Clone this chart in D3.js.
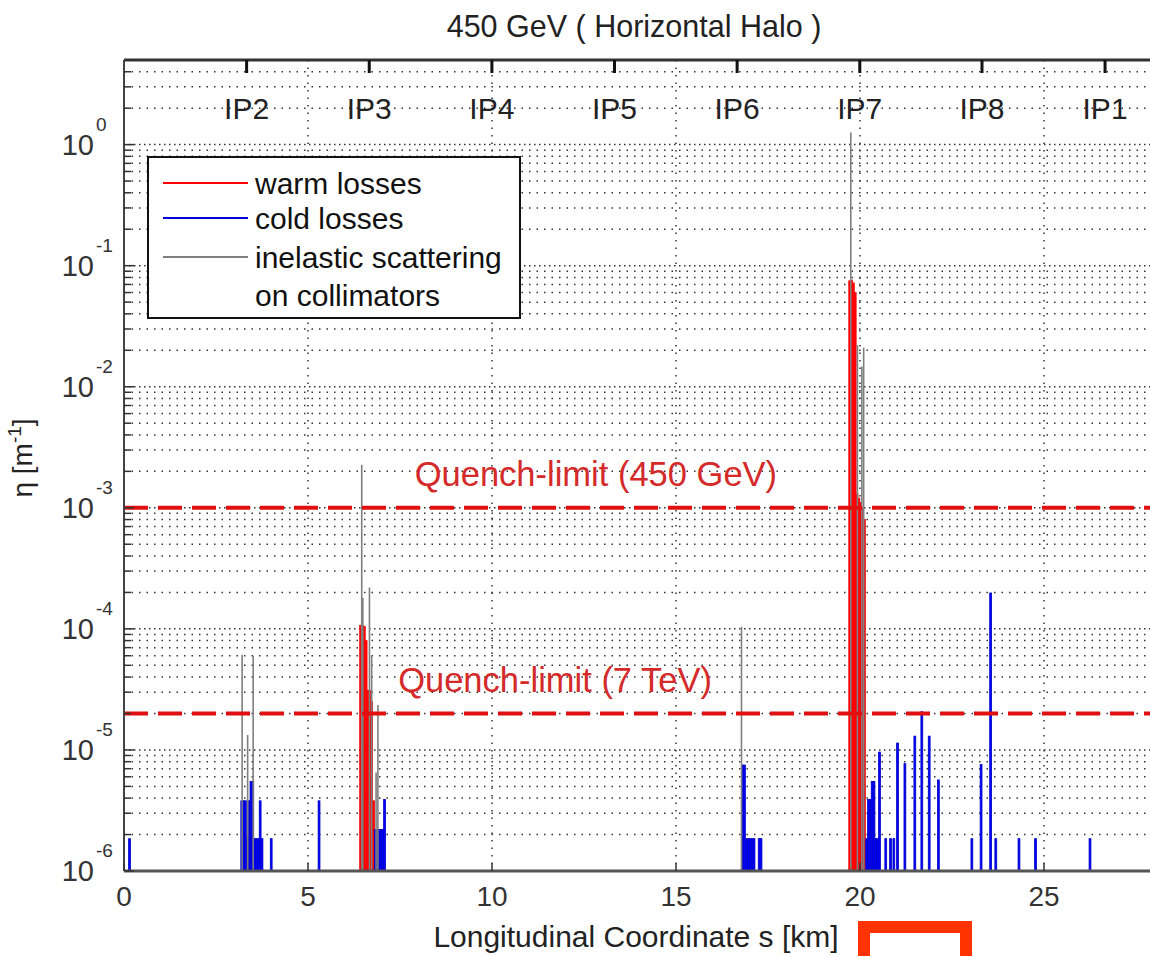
<!DOCTYPE html>
<html>
<head>
<meta charset="utf-8">
<script src="https://cdnjs.cloudflare.com/ajax/libs/d3/7.8.5/d3.min.js"></script>
<style>
  body { margin: 0; background: #fff; }
  svg { display: block; font-family: Arial, "Liberation Sans", sans-serif; }
</style>
</head>
<body>
<div id="vis"></div>
<script>
// size of the picture
var width = 1150;
var height = 956;

// interaction points along the ring [km]
var ipNames = ["IP2", "IP3", "IP4", "IP5", "IP6", "IP7", "IP8", "IP1"];
var ipPos = [3.332, 6.664, 9.997, 13.329, 16.661, 19.994, 23.315, 26.659];

// axis ticks
var xTicks = [0, 5, 10, 15, 20, 25];
var yExponents = [0, -1, -2, -3, -4, -5, -6];

// quench limits
var quenchValues = [1e-3, 2e-5];
var quenchLabels = ["Quench-limit (450 GeV)", "Quench-limit (7 TeV)"];

// loss maps: [s in km (bin centre), eta in 1/m]
var binWidth = 0.05;

var warmLosses = [
  [3.35, 1.9e-6],
  [6.43, 1.07e-4], [6.48, 1.07e-4], [6.53, 1.05e-4], [6.58, 8e-5],
  [6.63, 3.1e-5], [6.68, 3.1e-5], [6.73, 2.5e-5], [6.78, 3.8e-6],
  [16.80, 3.8e-6],
  [19.72, 0.075], [19.77, 0.076], [19.82, 0.072], [19.87, 0.06],
  [19.92, 1.3e-3], [19.97, 1.2e-3], [20.02, 1.1e-3], [20.07, 1.0e-3], [20.12, 8e-4]
];

var coldLosses = [
  [0.15, 1.85e-6],
  [3.20, 3.8e-6], [3.25, 3.8e-6], [3.30, 3.8e-6], [3.35, 1.85e-6], [3.40, 3.8e-6],
  [3.45, 5.5e-6], [3.50, 5.5e-6], [3.55, 1.85e-6], [3.60, 1.85e-6], [3.65, 1.85e-6],
  [3.70, 3.8e-6], [3.75, 1.85e-6], [4.00, 1.85e-6],
  [5.30, 3.8e-6],
  [6.83, 2.2e-6], [6.88, 2.2e-6], [6.93, 2.2e-6], [6.98, 2.2e-6], [7.03, 2.2e-6], [7.08, 3.9e-6],
  [16.81, 7.5e-6], [16.86, 7.5e-6], [16.92, 1.85e-6], [16.97, 1.85e-6], [17.02, 1.85e-6],
  [17.07, 1.85e-6], [17.12, 1.85e-6], [17.26, 1.85e-6], [17.31, 1.85e-6],
  [20.18, 1.85e-6], [20.23, 3.9e-6], [20.28, 3.9e-6], [20.33, 5.5e-6], [20.38, 5.5e-6],
  [20.43, 1.85e-6], [20.48, 1.85e-6], [20.53, 9.6e-6],
  [20.70, 1.85e-6], [20.83, 1.85e-6], [20.92, 1.85e-6], [21.02, 1.14e-5], [21.22, 7.7e-6],
  [21.49, 1.3e-5], [21.68, 2.07e-5], [21.88, 1.3e-5], [22.13, 5.65e-6],
  [23.04, 1.85e-6], [23.29, 7.6e-6], [23.55, 1.98e-4], [23.69, 1.85e-6],
  [24.32, 1.85e-6], [24.77, 1.85e-6], [26.25, 1.85e-6]
];

var inelastic = [
  [3.21, 6.1e-5], [3.36, 1.33e-5], [3.51, 6e-5],
  [6.46, 2.27e-3], [6.49, 1.8e-4], [6.67, 2.2e-4], [6.73, 6e-5], [6.85, 6.5e-6], [6.90, 2.35e-5],
  [16.78, 1.04e-4],
  [19.75, 1.26], [19.93, 0.022], [20.05, 0.0147], [20.10, 0.021]
];

var legendItems = [
  {label: ["warm losses"], color: "#ff0000"},
  {label: ["cold losses"], color: "#0000dd"},
  {label: ["inelastic scattering", "on collimators"], color: "#808080"}
];

// scales
var x = d3.scaleLinear().domain([0, 28]).range([124, 124 + 28 * 36.8]);
var y = d3.scaleLog().domain([1e-6, 5]).range([871, 60]);
var x0 = x.range()[0], x1 = x.range()[1];
var yTop = y.range()[1], yBot = y.range()[0];

var svg = d3.select("#vis").append("svg")
  .attr("width", width)
  .attr("height", height);

svg.append("rect").attr("width", width).attr("height", height).attr("fill", "#fff");

// log grid: minor + major lines
var minorVals = [];
yExponents.forEach(function(k) {
  for (var m = 2; m <= 9; m++) {
    var v = m * Math.pow(10, k);
    if (v <= y.domain()[1]) minorVals.push(v);
  }
});

svg.append("g").selectAll("line")
  .data(minorVals)
  .enter().append("line")
  .attr("x1", x0).attr("x2", x1)
  .attr("y1", d => y(d)).attr("y2", d => y(d))
  .attr("stroke", "#333")
  .attr("stroke-width", 1.5)
  .attr("stroke-dasharray", "1.5,6");

svg.append("g").selectAll("line")
  .data(yExponents.slice(0, -1))
  .enter().append("line")
  .attr("x1", x0).attr("x2", x1)
  .attr("y1", d => y(Math.pow(10, d))).attr("y2", d => y(Math.pow(10, d)))
  .attr("stroke", "#333")
  .attr("stroke-width", 1.5)
  .attr("stroke-dasharray", "1.5,3.5");

svg.append("g").selectAll("line")
  .data(xTicks.slice(1))
  .enter().append("line")
  .attr("x1", d => x(d)).attr("x2", d => x(d))
  .attr("y1", yTop).attr("y2", yBot)
  .attr("stroke", "#333")
  .attr("stroke-width", 1.5)
  .attr("stroke-dasharray", "1.5,6");

// bars for the loss maps
var bw = x(binWidth) - x(0);

function drawBins(data, fill, edge) {
  svg.append("g").selectAll("rect")
    .data(data)
    .enter().append("rect")
    .attr("x", d => x(d[0]) - bw / 2)
    .attr("width", bw)
    .attr("y", d => y(d[1]))
    .attr("height", d => yBot - y(d[1]))
    .attr("fill", fill)
    .attr("stroke", edge)
    .attr("stroke-width", 0.8);
}

drawBins(warmLosses, "#ff0000", "#ff0000");
drawBins(coldLosses, "#0000ff", "#0000c8");

svg.append("g").selectAll("line")
  .data(inelastic)
  .enter().append("line")
  .attr("x1", d => x(d[0])).attr("x2", d => x(d[0]))
  .attr("y1", yBot).attr("y2", d => y(d[1]))
  .attr("stroke", "#7f7f7f")
  .attr("stroke-width", 1.6);

// quench limit lines + labels
svg.append("g").selectAll("line")
  .data(quenchValues)
  .enter().append("line")
  .attr("x1", x0).attr("x2", x1)
  .attr("y1", d => y(d)).attr("y2", d => y(d))
  .attr("stroke", "#e01010")
  .attr("stroke-width", 4)
  .attr("stroke-dasharray", "24,10");

svg.append("g").selectAll("text")
  .data(quenchValues)
  .enter().append("text")
  .attr("x", (d, i) => i == 0 ? x(7.9) : x(7.45))
  .attr("y", d => y(d) - 34)
  .attr("dy", "0.36em")
  .attr("fill", "#d42a2a")
  .style("font-size", "34.5px")
  .text((d, i) => quenchLabels[i]);

// axes frame
svg.append("line")
  .attr("x1", x0).attr("x2", x1).attr("y1", yTop).attr("y2", yTop)
  .attr("stroke", "#333").attr("stroke-width", 3);
svg.append("line")
  .attr("x1", x0).attr("x2", x1).attr("y1", yBot).attr("y2", yBot)
  .attr("stroke", "#555").attr("stroke-width", 3);
svg.append("line")
  .attr("x1", x0).attr("x2", x0).attr("y1", yTop).attr("y2", yBot)
  .attr("stroke", "#444").attr("stroke-width", 2);

// left ticks (inside)
svg.append("g").selectAll("line")
  .data(minorVals)
  .enter().append("line")
  .attr("x1", x0).attr("x2", x0 + 7)
  .attr("y1", d => y(d)).attr("y2", d => y(d))
  .attr("stroke", "#333").attr("stroke-width", 1.5);

svg.append("g").selectAll("line")
  .data(yExponents)
  .enter().append("line")
  .attr("x1", x0).attr("x2", x0 + 10)
  .attr("y1", d => y(Math.pow(10, d))).attr("y2", d => y(Math.pow(10, d)))
  .attr("stroke", "#333").attr("stroke-width", 1.5);

// bottom ticks (inside)
svg.append("g").selectAll("line")
  .data(xTicks)
  .enter().append("line")
  .attr("x1", d => x(d)).attr("x2", d => x(d))
  .attr("y1", yBot).attr("y2", yBot - 8)
  .attr("stroke", "#333").attr("stroke-width", 1.5);

// y tick labels 10^k
var yLab = svg.append("g").selectAll("g")
  .data(yExponents)
  .enter().append("g")
  .attr("transform", d => "translate(0," + y(Math.pow(10, d)) + ")");

yLab.append("text")
  .attr("x", 94)
  .attr("dy", "0.36em")
  .attr("text-anchor", "end")
  .attr("fill", "#333")
  .style("font-size", "29px")
  .text("10");

yLab.append("text")
  .attr("x", 96)
  .attr("y", -14)
  .attr("fill", "#333")
  .style("font-size", "19px")
  .text(d => d == 0 ? "0" : d);

// x tick labels
svg.append("g").selectAll("text")
  .data(xTicks)
  .enter().append("text")
  .attr("x", d => x(d))
  .attr("y", 906)
  .attr("text-anchor", "middle")
  .attr("fill", "#333")
  .style("font-size", "28px")
  .text(d => d);

// IP markers along the top
svg.append("g").selectAll("line")
  .data(ipPos)
  .enter().append("line")
  .attr("x1", d => x(d)).attr("x2", d => x(d))
  .attr("y1", yTop).attr("y2", yTop + 13)
  .attr("stroke", "#111").attr("stroke-width", 3);

svg.append("g").selectAll("text")
  .data(ipPos)
  .enter().append("text")
  .attr("x", d => x(d))
  .attr("y", 108)
  .attr("dy", "0.36em")
  .attr("text-anchor", "middle")
  .attr("fill", "#222")
  .style("font-size", "30px")
  .text((d, i) => ipNames[i]);

// title and axis labels
svg.append("text")
  .attr("x", 634).attr("y", 26).attr("dy", "0.36em")
  .attr("text-anchor", "middle")
  .attr("fill", "#222")
  .style("font-size", "30.5px")
  .text("450 GeV ( Horizontal Halo )");

svg.append("text")
  .attr("x", 636).attr("y", 936).attr("dy", "0.36em")
  .attr("text-anchor", "middle")
  .attr("fill", "#222")
  .style("font-size", "30px")
  .text("Longitudinal Coordinate s [km]");

var yl = svg.append("text")
  .attr("transform", "translate(32,458) rotate(-90)")
  .attr("text-anchor", "middle")
  .attr("fill", "#222")
  .style("font-size", "28px");
yl.append("tspan").text("\u03B7 [m");
yl.append("tspan").attr("dy", -11).style("font-size", "19px").text("-1");
yl.append("tspan").attr("dy", 11).text("]");

// legend
var legend = svg.append("g");
legend.append("rect")
  .attr("x", 148).attr("y", 157)
  .attr("width", 372).attr("height", 161)
  .attr("fill", "#fff")
  .attr("stroke", "#111")
  .attr("stroke-width", 2);

var rowY = [183, 218, 257];
legendItems.forEach(function(item, i) {
  legend.append("line")
    .attr("x1", 163).attr("x2", 248)
    .attr("y1", rowY[i]).attr("y2", rowY[i])
    .attr("stroke", item.color)
    .attr("stroke-width", 2);
  item.label.forEach(function(t, j) {
    legend.append("text")
      .attr("x", 255).attr("y", rowY[i] + j * 38)
      .attr("dy", "0.36em")
      .attr("fill", "#111")
      .style("font-size", "30px")
      .text(t);
  });
});

// red marker box at the bottom
svg.append("rect")
  .attr("x", 864).attr("y", 927)
  .attr("width", 102).attr("height", 60)
  .attr("fill", "none")
  .attr("stroke", "#ff3300")
  .attr("stroke-width", 12);
</script>
</body>
</html>
